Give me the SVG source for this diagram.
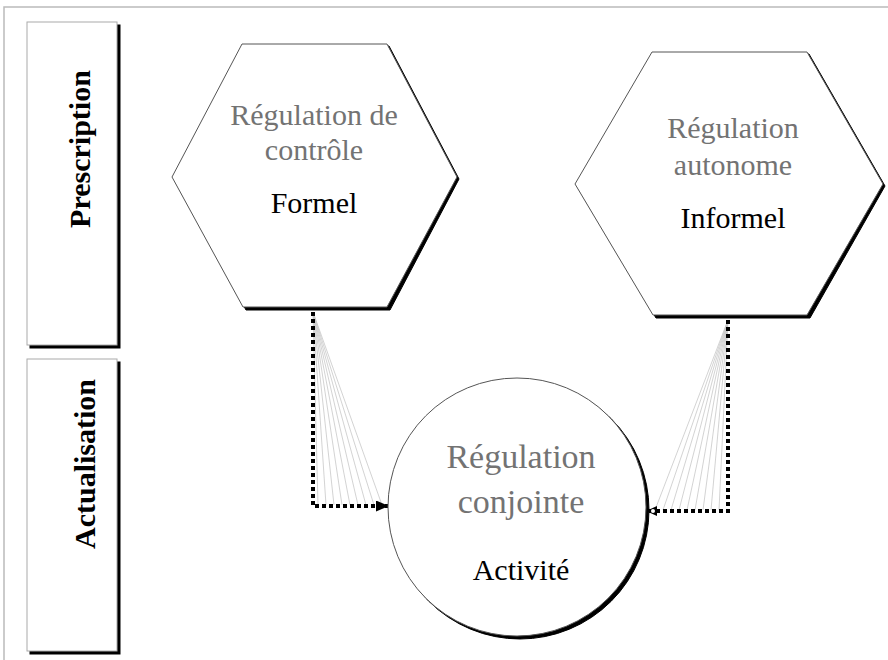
<svg xmlns="http://www.w3.org/2000/svg" width="888" height="660" viewBox="0 0 888 660">
<style>
.frame{fill:none;stroke:#bbb;stroke-width:1.5}
.box{fill:#fff;stroke:#aaa;stroke-width:1}
.shadow{fill:#000;stroke:#000;stroke-width:1}
.shape{fill:#fff;stroke:#555;stroke-width:1}
.lab{font-family:"Liberation Serif","Times New Roman",serif;font-weight:bold;font-size:30px;fill:#000;text-anchor:middle}
.gray{font-family:"Liberation Serif","Times New Roman",serif;font-size:30px;fill:#737373;text-anchor:middle}
.blk{font-family:"Liberation Serif","Times New Roman",serif;font-size:30px;fill:#000;text-anchor:middle}
.dot{fill:none;stroke:#000;stroke-width:4;stroke-dasharray:4 3}
.fan{stroke:#c8c8c8;stroke-width:0.8}
</style>
<defs>
<marker id="arrR" markerWidth="13" markerHeight="11" refX="12" refY="5.5" orient="auto" markerUnits="userSpaceOnUse">
<path d="M0,0 L13,5.5 L0,11 Z" fill="#000"/>
</marker>
<marker id="arrL" markerWidth="12" markerHeight="12" refX="11" refY="6" orient="auto" markerUnits="userSpaceOnUse">
<path d="M0,1 L11,6 L0,11 Z" fill="#000"/>
<circle cx="4" cy="6" r="2" fill="#fff"/>
</marker>
</defs>
<path class="frame" d="M4,660 L4,7 L888,7"/>
<g id="prescription">
<rect class="shadow" x="30" y="25" width="90" height="323"/>
<rect class="box" x="27" y="22" width="90" height="323"/>
<text class="lab" transform="translate(90,149) rotate(-90)">Prescription</text>
</g>
<g id="actualisation">
<rect class="shadow" x="30" y="362" width="90" height="292"/>
<rect class="box" x="27" y="359" width="90" height="292"/>
<text class="lab" transform="translate(95,464) rotate(-90)">Actualisation</text>
</g>
<g id="connectors">
<g class="fan">
<line x1="313" y1="312" x2="318" y2="505"/>
<line x1="313" y1="312" x2="326" y2="505"/>
<line x1="313" y1="312" x2="334" y2="505"/>
<line x1="313" y1="312" x2="342" y2="505"/>
<line x1="313" y1="312" x2="350" y2="505"/>
<line x1="313" y1="312" x2="358" y2="505"/>
<line x1="313" y1="312" x2="366" y2="505"/>
<line x1="313" y1="312" x2="374" y2="505"/>
<line x1="313" y1="312" x2="382" y2="505"/>
<line x1="728" y1="320" x2="655" y2="510"/>
<line x1="728" y1="320" x2="663" y2="510"/>
<line x1="728" y1="320" x2="671" y2="510"/>
<line x1="728" y1="320" x2="679" y2="510"/>
<line x1="728" y1="320" x2="687" y2="510"/>
<line x1="728" y1="320" x2="695" y2="510"/>
<line x1="728" y1="320" x2="703" y2="510"/>
<line x1="728" y1="320" x2="711" y2="510"/>
<line x1="728" y1="320" x2="719" y2="510"/>
</g>
<path class="dot" d="M313,312 L313,506 L388,506" marker-end="url(#arrR)"/>
<path class="dot" d="M728,320 L728,511 L646,511" marker-end="url(#arrL)"/>
</g>
<g id="controle">
<polygon class="shadow" points="244,46 389,46 459,179 390,310 246,310 174,179"/>
<polygon class="shape" points="242,44 387,44 457,177 387,307 243,307 172,177"/>
<text class="gray" x="314" y="125">Régulation de</text>
<text class="gray" x="314" y="160">contrôle</text>
<text class="blk" x="314" y="213">Formel</text>
</g>
<g id="autonome">
<polygon class="shadow" points="654,54 809,54 885,186 810,318 656,318 577,186"/>
<polygon class="shape" points="652,52 807,52 883,184 807,315 653,315 575,184"/>
<text class="gray" x="733" y="138">Régulation</text>
<text class="gray" x="733" y="175">autonome</text>
<text class="blk" x="733" y="228">Informel</text>
</g>
<g id="conjointe">
<circle class="shadow" cx="520" cy="510" r="129"/>
<circle class="shape" cx="517" cy="507" r="129"/>
<text class="gray" x="521" y="468" style="font-size:34px">Régulation</text>
<text class="gray" x="521" y="513" style="font-size:34px">conjointe</text>
<text class="blk" x="521" y="580">Activité</text>
</g>
</svg>
